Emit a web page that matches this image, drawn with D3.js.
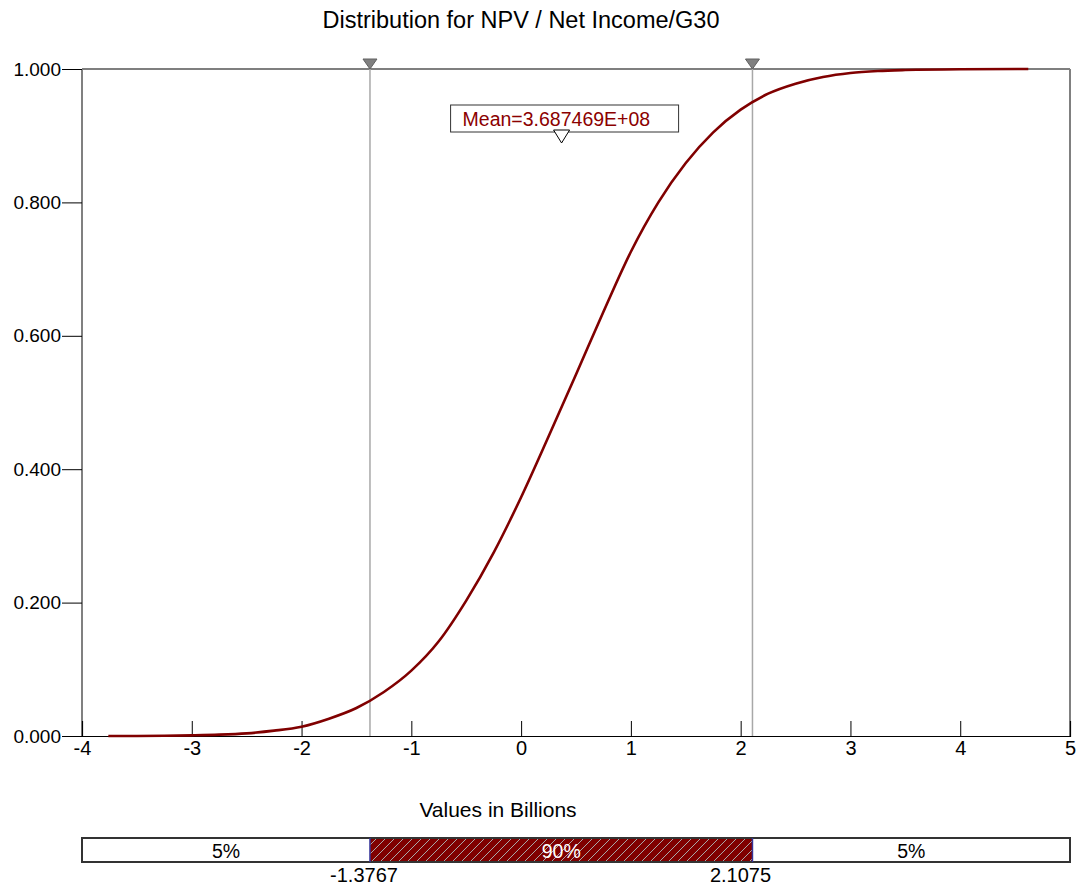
<!DOCTYPE html>
<html>
<head>
<meta charset="utf-8">
<script src="https://cdn.jsdelivr.net/npm/d3@7"></script>
<style>
  html, body { margin: 0; padding: 0; background: #fff; }
  svg { display: block; font-family: "Liberation Sans", Arial, sans-serif; }
</style>
</head>
<body>
<svg id="chart" width="1080" height="888"></svg>
<script>
// Cumulative distribution of NPV (values in billions)
const cdfX = [-3.76, -3.5, -3.25, -3.0, -2.75, -2.5, -2.25, -2.0, -1.75, -1.5, -1.25, -1.0, -0.75, -0.5,
  -0.25, 0.0, 0.25, 0.5, 0.75, 1.0, 1.25, 1.5, 1.75, 2.0, 2.25, 2.5, 2.75, 3.0, 3.25, 3.5, 4.0, 4.62];
const cdfY = [0.0, 0.0001, 0.0004, 0.001, 0.002, 0.004, 0.008, 0.014, 0.026, 0.042, 0.066, 0.098, 0.142, 0.203,
  0.275, 0.358, 0.449, 0.542, 0.636, 0.726, 0.800, 0.859, 0.905, 0.939, 0.963, 0.978, 0.988, 0.994, 0.997, 0.9985, 0.9997, 1.0];

const xTicks = [-4, -3, -2, -1, 0, 1, 2, 3, 4, 5];
const yTicks = [0, 0.2, 0.4, 0.6, 0.8, 1.0];

const lowerCut = -1.3767;
const upperCut = 2.1075;
const cutLabels = ["-1.3767", "2.1075"];
const bandLabels = ["5%", "90%", "5%"];
const meanValue = 3.687469e8;
const meanLabel = "Mean=3.687469E+08";

const titleText = "Distribution for NPV / Net Income/G30";
const xAxisTitle = "Values in Billions";

const svg = d3.select("#chart");
const plotLeft = 82, plotRight = 1070, plotTop = 69, plotBottom = 736;
const FONT = "Liberation Sans, Arial, sans-serif";

const x = d3.scaleLinear().domain([-4, 5]).range([plotLeft, plotRight]);
const y = d3.scaleLinear().domain([0, 1]).range([plotBottom, plotTop]);

// hatch pattern for the central band
const defs = svg.append("defs");
const pat = defs.append("pattern").attr("id", "hatch")
  .attr("patternUnits", "userSpaceOnUse").attr("width", 9).attr("height", 9);
pat.append("rect").attr("width", 9).attr("height", 9).attr("fill", "#800000");
pat.append("path").attr("d", "M-1,10 L10,-1 M-2,2 L2,-2 M7,11 L11,7")
  .attr("stroke", "#a8a8a8").attr("stroke-width", 1);

// title
svg.append("text").attr("x", 521).attr("y", 28).attr("text-anchor", "middle")
  .attr("font-size", 23.5).attr("fill", "#000").text(titleText);

// frame
svg.append("line").attr("x1", plotLeft).attr("x2", plotRight).attr("y1", plotTop).attr("y2", plotTop)
  .attr("stroke", "#000").attr("stroke-width", 1.2);
svg.append("line").attr("x1", plotLeft).attr("x2", plotLeft).attr("y1", plotTop).attr("y2", plotBottom)
  .attr("stroke", "#808080").attr("stroke-width", 2);
svg.append("line").attr("x1", plotRight).attr("x2", plotRight).attr("y1", plotTop).attr("y2", plotBottom)
  .attr("stroke", "#808080").attr("stroke-width", 2);

// y axis
const yAxis = d3.axisLeft(y).tickValues(yTicks).tickFormat(d3.format(".3f")).tickSize(20).tickPadding(1);
const gy = svg.append("g").attr("transform", `translate(${plotLeft},0)`).call(yAxis);
gy.select(".domain").remove();
gy.selectAll(".tick line").attr("stroke", "#000");
gy.selectAll(".tick text").attr("font-size", 19).attr("fill", "#000").attr("font-family", FONT);

// x axis (ticks point up into the plot)
const xAxis = d3.axisBottom(x).tickValues(xTicks).tickFormat(d => String(d)).tickSize(-15).tickPadding(5);
const gx = svg.append("g").attr("transform", `translate(0,${plotBottom})`).call(xAxis);
gx.select(".domain").attr("stroke", "#000").attr("stroke-width", 1.2);
gx.selectAll(".tick line").attr("stroke", "#000");
gx.selectAll(".tick text").attr("font-size", 20).attr("fill", "#000").attr("font-family", FONT);

// percentile marker lines
[lowerCut, upperCut].forEach(v => {
  svg.append("line").attr("x1", x(v)).attr("x2", x(v)).attr("y1", plotTop).attr("y2", plotBottom)
    .attr("stroke", "#a8a8a8").attr("stroke-width", 1.5);
  svg.append("path")
    .attr("d", `M${x(v) - 7},${plotTop - 10} L${x(v) + 7},${plotTop - 10} L${x(v)},${plotTop} Z`)
    .attr("fill", "#808080").attr("stroke", "#606060").attr("stroke-width", 1);
});

// cumulative curve
const pts = cdfX.map((d, i) => [d, cdfY[i]]);
svg.append("path").datum(pts)
  .attr("d", d3.line().x(d => x(d[0])).y(d => y(d[1])).curve(d3.curveMonotoneX))
  .attr("fill", "none").attr("stroke", "#800000").attr("stroke-width", 2.6);

// mean label
const mx = x(meanValue / 1e9);
svg.append("rect").attr("x", mx - 111).attr("y", 105).attr("width", 228).attr("height", 27)
  .attr("fill", "#fff").attr("stroke", "#333").attr("stroke-width", 1);
svg.append("text").attr("x", mx - 99).attr("y", 126).attr("font-size", 19.5).attr("fill", "#8b0000")
  .text(meanLabel);
svg.append("path").attr("d", `M${mx - 8},${130} L${mx + 8},${130} L${mx},${143} Z`)
  .attr("fill", "#fff").attr("stroke", "#000").attr("stroke-width", 1);

// x axis title
svg.append("text").attr("x", 498).attr("y", 817).attr("text-anchor", "middle")
  .attr("font-size", 21).attr("fill", "#000").text(xAxisTitle);

// band bar
const barTop = 838, barH = 24;
const bands = [[-4, lowerCut], [lowerCut, upperCut], [upperCut, 5]];
svg.append("rect").attr("x", plotLeft).attr("y", barTop).attr("width", plotRight - plotLeft).attr("height", barH)
  .attr("fill", "#fff").attr("stroke", "#333").attr("stroke-width", 2);
svg.append("rect").attr("x", x(lowerCut)).attr("y", barTop + 1)
  .attr("width", x(upperCut) - x(lowerCut)).attr("height", barH - 2)
  .attr("fill", "url(#hatch)");
[lowerCut, upperCut].forEach(v => {
  svg.append("line").attr("x1", x(v)).attr("x2", x(v)).attr("y1", barTop).attr("y2", barTop + barH)
    .attr("stroke", "#333399").attr("stroke-width", 1.5);
});
bands.forEach((b, i) => {
  svg.append("text").attr("x", (x(b[0]) + x(b[1])) / 2).attr("y", barTop + 20)
    .attr("text-anchor", "middle").attr("font-size", 19.5)
    .attr("fill", i === 1 ? "#fff" : "#000").text(bandLabels[i]);
});

// cut value labels below the bar
[[lowerCut, cutLabels[0], -6], [upperCut, cutLabels[1], -12]].forEach(([v, t, dx]) => {
  const cx = x(v) + dx;
  svg.append("rect").attr("x", cx - 38).attr("y", barTop + barH + 1).attr("width", 76).attr("height", 24)
    .attr("fill", "#fff");
  svg.append("text").attr("x", cx).attr("y", 882).attr("text-anchor", "middle")
    .attr("font-size", 20).attr("fill", "#000").text(t);
});
</script>
</body>
</html>
